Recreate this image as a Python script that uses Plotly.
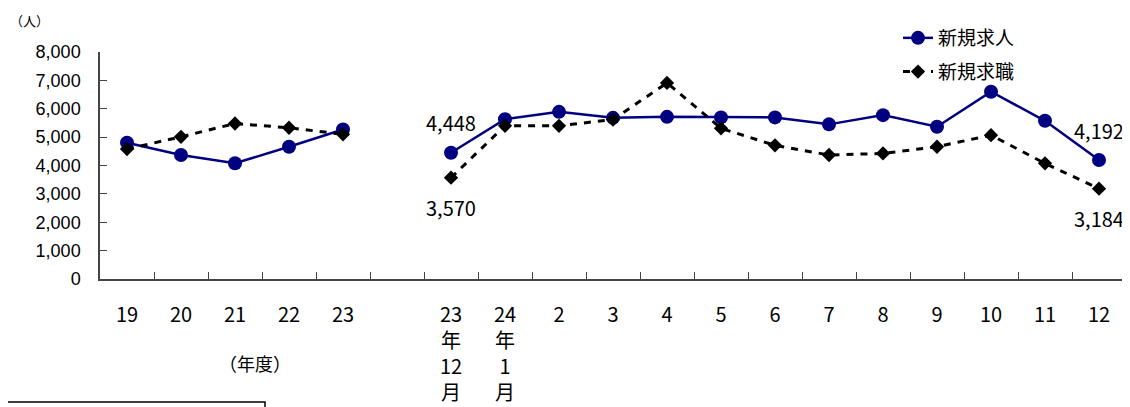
import plotly.graph_objects as go

categories = ["19", "20", "21", "22", "23", "gap",
              "23年12月", "24年1月", "2", "3", "4", "5", "6", "7", "8", "9", "10", "11", "12"]
tick_labels = ["19", "20", "21", "22", "23", "",
               "23<br>年<br>12<br>月", "24<br>年<br>1<br>月",
               "2", "3", "4", "5", "6", "7", "8", "9", "10", "11", "12"]
new_openings = [4800, 4370, 4080, 4660, 5270, None,
                4448, 5630, 5890, 5680, 5715, 5695, 5695, 5450, 5775, 5365, 6600, 5575, 4192]
new_applicants = [4580, 5010, 5480, 5330, 5100, None,
                  3570, 5400, 5400, 5620, 6910, 5310, 4710, 4370, 4425, 4660, 5070, 4075, 3184]
series_names = ["新規求人", "新規求職"]

JP = "Noto Sans CJK JP"
fig = go.Figure()
fig.add_trace(go.Scatter(
    x=categories, y=new_openings, name=series_names[0], mode="lines+markers",
    line=dict(color="#000080", width=2.5), connectgaps=False,
    marker=dict(symbol="circle", size=14, color="#000080"), legendgroup="a"))
fig.add_trace(go.Scatter(
    x=categories, y=new_applicants, name=series_names[1], mode="lines+markers",
    line=dict(color="#000000", width=3, dash="7px,7px"), connectgaps=False,
    marker=dict(symbol="diamond", size=11, color="#000000"), legendgroup="b"))

# value labels for first and last monthly points (x given as category index)
for idx in (6, len(categories) - 1):
    fig.add_annotation(x=idx, y=new_openings[idx], text=f"{new_openings[idx]:,}",
                       showarrow=False, yshift=30, font=dict(family=JP, size=20, color="#000"))
    fig.add_annotation(x=idx, y=new_applicants[idx], text=f"{new_applicants[idx]:,}",
                       showarrow=False, yshift=-30, font=dict(family=JP, size=20, color="#000"))

fig.add_annotation(xref="paper", yref="paper", x=(8 - 100) / 1026, y=(279 - 20) / 227,
                   xanchor="left", yanchor="middle",
                   text="（人）", showarrow=False, font=dict(family=JP, size=13, color="#000"))
fig.add_annotation(xref="paper", yref="paper", x=(255 - 100) / 1026, y=(279 - 363) / 227,
                   xanchor="center", yanchor="middle",
                   text="（年度）", showarrow=False, font=dict(family=JP, size=18, color="#000"))

fig.add_shape(type="rect", xref="paper", yref="paper",
              x0=(-3 - 100) / 1026, x1=(265 - 100) / 1026,
              y0=(279 - 402) / 227, y1=(279 - 430) / 227,
              line=dict(color="#000", width=1.5))

fig.update_layout(
    width=1130, height=407,
    margin=dict(l=92, r=12, t=44, b=136, autoexpand=False),
    plot_bgcolor="white", paper_bgcolor="white",
    showlegend=True,
    legend=dict(xref="container", yref="container", x=890 / 1130, y=1 - 11 / 407,
                xanchor="left", yanchor="top",
                font=dict(family=JP, size=19, color="#000"), bgcolor="rgba(0,0,0,0)",
                tracegroupgap=6),
    xaxis=dict(type="category", categoryorder="array", categoryarray=categories,
               tickvals=categories, ticktext=tick_labels, range=[-0.5, len(categories) - 0.5],
               tickson="boundaries", ticks="inside", ticklen=7, tickcolor="#444",
               showline=True, linecolor="#444", linewidth=1.5, showgrid=False, automargin=False,
               tickfont=dict(family=JP, size=20, color="#000"), ticklabelstandoff=17),
    yaxis=dict(range=[0, 8000], dtick=1000, tickformat=",", ticks="inside", ticklen=7,
               tickcolor="#444", showline=True, linecolor="#444", linewidth=1.5,
               showgrid=False, zeroline=False, automargin=False,
               tickfont=dict(family="Liberation Sans", size=18, color="#000"),
               ticklabelstandoff=14),
)
fig.write_html("out.html")
